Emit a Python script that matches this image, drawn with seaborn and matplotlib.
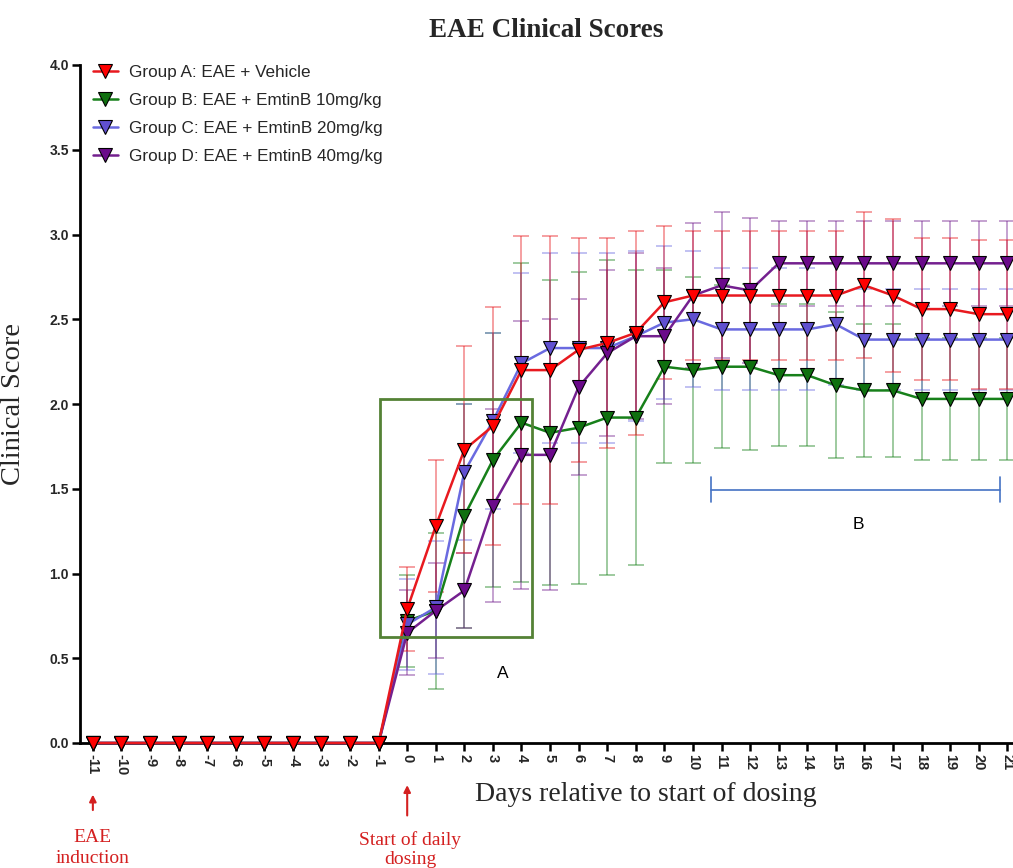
import numpy as np
import pandas as pd
import matplotlib
matplotlib.use("Agg")
import matplotlib.pyplot as plt
import seaborn as sns
from matplotlib.patches import Rectangle

sns.set_theme(style="ticks")
plt.rcParams['font.family'] = ['Liberation Sans', 'DejaVu Sans']

days = list(range(-11, 22))
pre = [0.0] * 11
xtick_labels = [str(d) for d in days]

group_names = ["Group A: EAE + Vehicle",
               "Group B: EAE + EmtinB 10mg/kg",
               "Group C: EAE + EmtinB 20mg/kg",
               "Group D: EAE + EmtinB 40mg/kg"]

score_a = pre + [0.79, 1.28, 1.73, 1.87, 2.20, 2.20, 2.32, 2.36, 2.42, 2.60, 2.64,
                 2.64, 2.64, 2.64, 2.64, 2.64, 2.70, 2.64, 2.56, 2.56, 2.53, 2.53]
score_b = pre + [0.72, 0.78, 1.34, 1.67, 1.89, 1.83, 1.86, 1.92, 1.92, 2.22, 2.20,
                 2.22, 2.22, 2.17, 2.17, 2.11, 2.08, 2.08, 2.03, 2.03, 2.03, 2.03]
score_c = pre + [0.70, 0.80, 1.60, 1.90, 2.24, 2.33, 2.33, 2.33, 2.40, 2.48, 2.50,
                 2.44, 2.44, 2.44, 2.44, 2.47, 2.38, 2.38, 2.38, 2.38, 2.38, 2.38]
score_d = pre + [0.65, 0.78, 0.90, 1.40, 1.70, 1.70, 2.10, 2.30, 2.40, 2.40, 2.64,
                 2.70, 2.67, 2.83, 2.83, 2.83, 2.83, 2.83, 2.83, 2.83, 2.83, 2.83]

err_a = pre + [0.25, 0.39, 0.61, 0.70, 0.79, 0.79, 0.66, 0.62, 0.60, 0.45, 0.38,
               0.38, 0.38, 0.38, 0.38, 0.38, 0.43, 0.45, 0.42, 0.42, 0.44, 0.44]
err_b = pre + [0.27, 0.46, 0.66, 0.75, 0.94, 0.90, 0.92, 0.93, 0.87, 0.57, 0.55,
               0.48, 0.49, 0.42, 0.42, 0.43, 0.39, 0.39, 0.36, 0.36, 0.36, 0.36]
err_c = pre + [0.27, 0.39, 0.40, 0.52, 0.53, 0.56, 0.56, 0.56, 0.50, 0.45, 0.40,
               0.36, 0.36, 0.36, 0.36, 0.36, 0.30, 0.30, 0.30, 0.30, 0.30, 0.30]
err_d = pre + [0.25, 0.28, 0.22, 0.57, 0.79, 0.80, 0.52, 0.49, 0.49, 0.40, 0.43,
               0.43, 0.43, 0.25, 0.25, 0.25, 0.25, 0.25, 0.25, 0.25, 0.25, 0.25]

line_colors = ["#E8191F", "#17801A", "#6A6AE0", "#74208F"]
face_colors = ["#FF0000", "#0F700F", "#6050D0", "#6A0A8A"]

scores = [score_a, score_b, score_c, score_d]
errs = [err_a, err_b, err_c, err_d]

fig = plt.figure(figsize=(10.13, 8.68), dpi=100)
ax = fig.add_axes([80 / 1013, 1 - 743 / 868, 1 - 80 / 1013, (743 - 65) / 868])

# error bars first (behind lines)
for i in [1, 2, 3, 0]:
    d = np.array(days)
    s = np.array(scores[i])
    e = np.array(errs[i])
    m = d >= 0
    ax.errorbar(d[m], s[m], yerr=e[m], fmt='none', ecolor=line_colors[i],
                alpha=0.45, elinewidth=1.3, capsize=6, capthick=1.3, zorder=1)

for i in [1, 2, 3, 0]:
    df = pd.DataFrame({"Day": days, "Score": scores[i]})
    sns.lineplot(data=df, x="Day", y="Score", color=line_colors[i], ax=ax,
                 marker="v", markersize=10.5, markerfacecolor=face_colors[i],
                 markeredgecolor="black", markeredgewidth=0.8, linewidth=1.8,
                 label=group_names[i], clip_on=False, zorder=3, errorbar=None)

handles, labels = ax.get_legend_handles_labels()
order = [labels.index(n) for n in group_names]
ax.legend([handles[k] for k in order], [labels[k] for k in order],
          loc="upper left", bbox_to_anchor=(-0.003, 1.023), frameon=False,
          fontsize=12.3, handlelength=1.5, labelspacing=0.76, handletextpad=0.65)

ax.set_xlim(-11.45, 21.2)
ax.set_ylim(0, 4.0)
ax.set_xticks(days)
ax.set_xticklabels(xtick_labels, rotation=-90, fontweight="bold", fontsize=10.5)
ax.set_yticks(np.arange(0, 4.01, 0.5))
ax.set_yticklabels([f"{v:.1f}" for v in np.arange(0, 4.01, 0.5)],
                   fontweight="bold", fontsize=10)
for sp in ["top", "right"]:
    ax.spines[sp].set_visible(False)
for sp in ["left", "bottom"]:
    ax.spines[sp].set_linewidth(2.0)
    ax.spines[sp].set_color("black")
ax.tick_params(axis="both", length=6, width=1.8, color="black", pad=2)

ax.set_title("EAE Clinical Scores", fontsize=19.5, fontweight="bold",
             family="Liberation Serif", pad=20)
ax.set_ylabel("Clinical Score", fontsize=20.5, family="Liberation Serif")
ax.yaxis.set_label_coords(-0.058, 0.5)
ax.set_xlabel("Days relative to start of dosing", fontsize=20, family="Liberation Serif")
ax.xaxis.set_label_coords(0.606, -0.058)

# box A
ax.add_patch(Rectangle((-0.95, 0.625), 5.32, 1.405, fill=False,
                       edgecolor="#548235", linewidth=2.0, zorder=4))
ax.text(3.35, 0.41, "A", fontsize=12.5, ha="center", va="center", color="black")

# bracket B
bc = "#4472C4"
ax.plot([10.63, 20.73], [1.49, 1.49], color=bc, lw=1.2)
ax.plot([10.63, 10.63], [1.42, 1.57], color=bc, lw=1.2)
ax.plot([20.73, 20.73], [1.42, 1.57], color=bc, lw=1.2)
ax.text(15.8, 1.29, "B", fontsize=12.5, ha="center", va="center", color="black")

# red arrows and annotations
rc = "#D42020"
tr = ("data", "axes fraction")
ax.annotate("", xy=(-11, -0.072), xytext=(-11, -0.103), xycoords=tr, textcoords=tr,
            arrowprops=dict(arrowstyle="-|>", color=rc, lw=1.5, mutation_scale=10),
            annotation_clip=False)
ax.annotate("", xy=(0, -0.058), xytext=(0, -0.111), xycoords=tr, textcoords=tr,
            arrowprops=dict(arrowstyle="-|>", color=rc, lw=1.5, mutation_scale=10),
            annotation_clip=False)
ax.text(-11, -0.155, "EAE\ninduction", transform=ax.get_xaxis_transform(),
        ha="center", va="center", color=rc, fontsize=14, family="Liberation Serif",
        linespacing=1.25, clip_on=False)
ax.text(0.1, -0.157, "Start of daily\ndosing", transform=ax.get_xaxis_transform(),
        ha="center", va="center", color=rc, fontsize=14, family="Liberation Serif",
        linespacing=1.15, clip_on=False)

fig.savefig("out.png", dpi=100)
